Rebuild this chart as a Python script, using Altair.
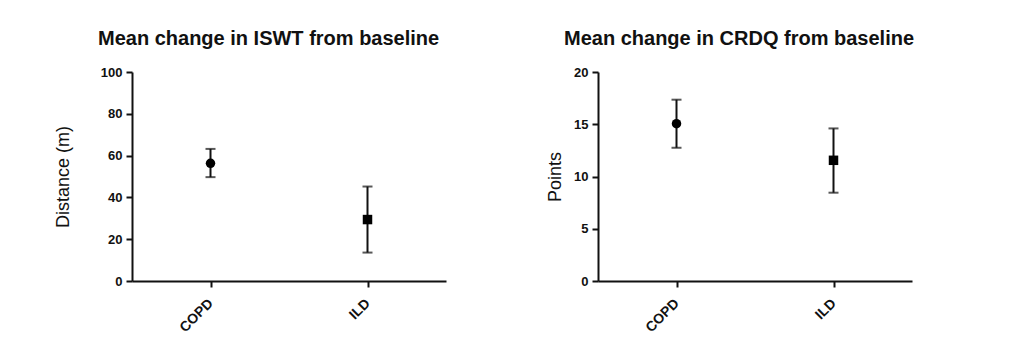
import altair as alt
import pandas as pd

groups = ["COPD", "ILD"]

iswt_mean = [56.3, 29.4]
iswt_low = [49.7, 13.6]
iswt_high = [63.2, 45.2]

crdq_mean = [15.05, 11.55]
crdq_low = [12.75, 8.45]
crdq_high = [17.35, 14.6]

y1_ticks = [0, 20, 40, 60, 80, 100]
y2_ticks = [0, 5, 10, 15, 20]

FONT = "Liberation Sans"
INK = "#111111"


def panel(means, lows, highs, title, ytitle, ymax, yticks, title_pad):
    df = pd.DataFrame({"group": groups, "mean": means, "low": lows, "high": highs})
    x = alt.X(
        "group:N",
        sort=groups,
        scale=alt.Scale(type="point", padding=0.5),
        axis=alt.Axis(
            title=None,
            labelAngle=-45,
            labelAlign="right",
            labelBaseline="middle",
            labelFont=FONT,
            labelFontWeight="bold",
            labelFontSize=14,
            labelColor=INK,
            labelPadding=14,
            tickSize=6,
            tickWidth=2,
            tickColor=INK,
            domainColor=INK,
            domainWidth=2,
            grid=False,
        ),
    )
    yscale = alt.Scale(domain=[0, ymax], nice=False, zero=True)
    yaxis = alt.Axis(
        title=ytitle,
        values=yticks,
        titleFont=FONT,
        titleFontWeight="normal",
        titleFontSize=18,
        titleColor=INK,
        titlePadding=title_pad,
        labelFont=FONT,
        labelFontWeight="bold",
        labelFontSize=13,
        labelColor=INK,
        labelPadding=4,
        tickSize=6,
        tickWidth=2,
        tickColor=INK,
        domainColor=INK,
        domainWidth=2,
        grid=False,
    )
    base = alt.Chart(df)
    rule = base.mark_rule(color=INK, strokeWidth=2).encode(
        x=x, y=alt.Y("low:Q", scale=yscale, axis=yaxis), y2="high:Q"
    )
    cap_lo = base.mark_tick(color=INK, size=10, thickness=2).encode(
        x=x, y=alt.Y("low:Q", scale=yscale)
    )
    cap_hi = base.mark_tick(color=INK, size=10, thickness=2).encode(
        x=x, y=alt.Y("high:Q", scale=yscale)
    )
    pts = base.mark_point(filled=True, opacity=1, color="#000000", size=90).encode(
        x=x,
        y=alt.Y("mean:Q", scale=yscale),
        shape=alt.Shape(
            "group:N",
            scale=alt.Scale(domain=groups, range=["circle", "square"]),
            legend=None,
        ),
    )
    return alt.layer(rule, cap_lo, cap_hi, pts).properties(
        width=314,
        height=209,
        title=alt.TitleParams(
            title,
            font=FONT,
            fontSize=20,
            fontWeight="bold",
            color=INK,
            anchor="start",
            frame="group",
            dx=-34,
            offset=17,
        ),
    )


left = panel(iswt_mean, iswt_low, iswt_high, "Mean change in ISWT from baseline",
             "Distance (m)", 100, y1_ticks, 28)
right = panel(crdq_mean, crdq_low, crdq_high, "Mean change in CRDQ from baseline",
              "Points", 20, y2_ticks, 9)

chart = (
    alt.hconcat(left, right, spacing=100)
    .properties(
        background="white",
        padding={"left": 46, "top": 21, "right": 0, "bottom": 0},
    )
    .configure_view(strokeWidth=0)
)

chart.save("out.html", embed_options={"renderer": "svg", "actions": False})
